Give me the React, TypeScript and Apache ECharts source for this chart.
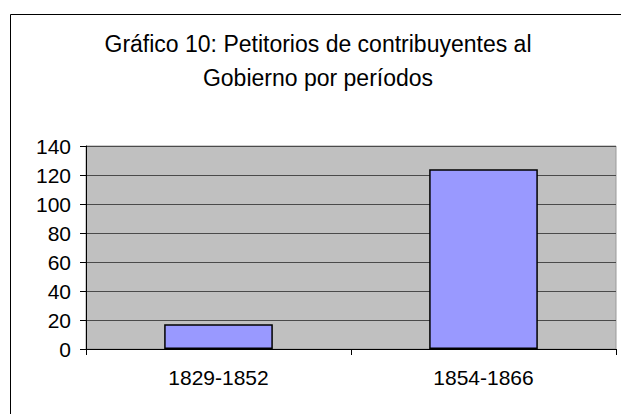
import React, { useEffect, useRef } from "react";
import * as echarts from "echarts";

const categories = ["1829-1852", "1854-1866"];
const values = [17, 124];
const titleLines = ["Gráfico 10: Petitorios de contribuyentes al", "Gobierno por períodos"];

const FONT = "'Liberation Sans', Arial, sans-serif";

export default function App() {
  const ref = useRef<HTMLDivElement>(null);
  useEffect(() => {
    if (!ref.current) return;
    const chart = echarts.init(ref.current, null, { renderer: "svg" });
    chart.setOption({
      animation: false,
      backgroundColor: "#ffffff",
      textStyle: { fontFamily: FONT },
      graphic: [
        {
          type: "rect",
          shape: { x: 10.5, y: 14.5, width: 800, height: 600 },
          style: { fill: "none", stroke: "#000", lineWidth: 1 },
          silent: true,
          z: 0,
        },
        {
          type: "text",
          x: 318,
          y: 27,
          style: {
            text: titleLines.join("\n"),
            fontFamily: FONT,
            fontSize: 23,
            lineHeight: 34,
            fill: "#000",
            textAlign: "center",
            textVerticalAlign: "top",
          },
        },
      ],
      grid: {
        left: 86,
        top: 146,
        right: 5,
        bottom: 65,
        show: true,
        backgroundColor: "#c0c0c0",
        borderColor: "#9a9a9a",
        borderWidth: 1,
      },
      xAxis: {
        type: "category",
        data: categories,
        axisLine: { lineStyle: { color: "#000", width: 1 } },
        axisTick: { show: true, length: 6, lineStyle: { color: "#000" } },
        axisLabel: { color: "#000", fontSize: 21, fontFamily: FONT, margin: 18 },
      },
      yAxis: {
        type: "value",
        min: 0,
        max: 140,
        interval: 20,
        axisLine: { show: true, lineStyle: { color: "#000", width: 1 } },
        axisTick: { show: true, length: 6, lineStyle: { color: "#000" } },
        axisLabel: { color: "#000", fontSize: 21, fontFamily: FONT, margin: 15 },
        splitLine: { show: true, lineStyle: { color: "#4a4a4a", width: 1 } },
      },
      series: [
        {
          type: "bar",
          data: values,
          barWidth: "41%",
          itemStyle: { color: "#9999ff", borderColor: "#000", borderWidth: 1.5 },
        },
      ],
    });
    return () => chart.dispose();
  }, []);
  return (
    <div
      ref={ref}
      style={{ position: "fixed", left: 0, top: 0, width: 621, height: 414 }}
    />
  );
}
